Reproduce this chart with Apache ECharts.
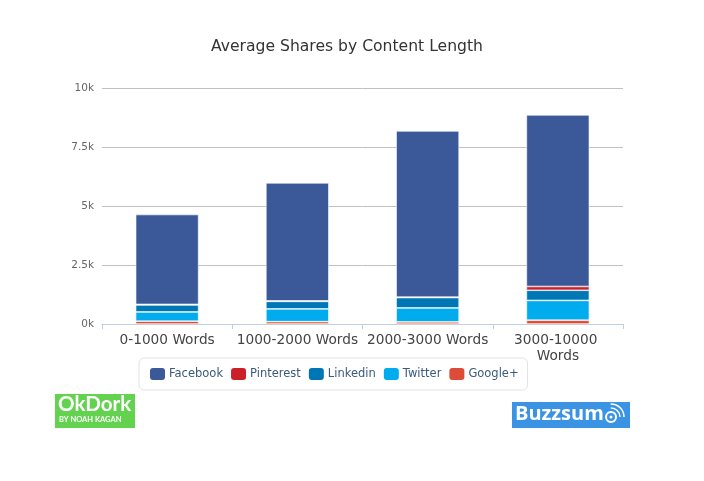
<!DOCTYPE html>
<html><head><meta charset="utf-8">
<style>html,body{margin:0;padding:0;background:#fff}#c{width:704px;height:481px}</style>
<script src="https://cdn.jsdelivr.net/npm/echarts@6/dist/echarts.min.js"></script>
</head><body><div id="c"></div>
<script>
const categories = ['0-1000 Words','1000-2000 Words','2000-3000 Words','3000-10000 Words'];
const facebook = [3810,5000,7040,7270];
const pinterest = [20,20,20,160];
const linkedin = [300,320,440,430];
const twitter = [390,540,590,840];
const googlePlus = [120,100,90,160];
const legendOrder = ['Facebook','Pinterest','Linkedin','Twitter','Google+'];
const colors = {Facebook:'#3b5998',Pinterest:'#cb2027',Linkedin:'#0077b5',Twitter:'#00aced',Google:'#dd4b39'};
const font = '"DejaVu Sans", sans-serif';
const bar = (name, data, color) => ({
  name, type:'bar', stack:'s', data, barWidth:63,
  itemStyle:{color, borderColor:'rgba(255,255,255,0.85)', borderWidth:0.7}
});
const chart = echarts.init(document.getElementById('c'), null, {renderer:'canvas'});
chart.setOption({
  animation:false,
  textStyle:{fontFamily:font},
  title:{text:'Average Shares by Content Length',left:206,top:34,
    textStyle:{fontFamily:font,fontSize:15.6,fontWeight:'normal',color:'#333'}},
  grid:{left:102,right:81,top:88,bottom:157,containLabel:false},
  xAxis:{type:'category',data:categories,
    axisLine:{lineStyle:{color:'#c0d0e0',width:1}},
    axisTick:{show:true,length:5,lineStyle:{color:'#c0d0e0'},alignWithLabel:false},
    axisLabel:{fontFamily:font,fontSize:13.7,color:'#444',margin:8,width:128,overflow:'break',lineHeight:16,interval:0}},
  yAxis:{type:'value',min:0,max:10000,interval:2500,
    axisLine:{show:false},axisTick:{show:false},
    splitLine:{lineStyle:{color:'#c0c0c0',width:1}},
    axisLabel:{fontFamily:font,fontSize:10.5,color:'#666',margin:8,padding:[2,0,0,0],formatter:v=>(v/1000)+'k'}},
  legend:{data:legendOrder,left:139,top:358,orient:'horizontal',
    padding:[10,9,10,11],itemGap:8,itemWidth:15,itemHeight:12,
    backgroundColor:'#fff',borderColor:'#e2e2e2',borderWidth:1,borderRadius:5,
    itemStyle:{borderWidth:0},
    textStyle:{fontFamily:font,fontSize:11.5,color:'#3a5a7c',padding:[0,0,0,-1]}},
  series:[
    bar('Google+',googlePlus,colors.Google),
    bar('Twitter',twitter,colors.Twitter),
    bar('Linkedin',linkedin,colors.Linkedin),
    bar('Pinterest',pinterest,colors.Pinterest),
    bar('Facebook',facebook,colors.Facebook)
  ],
  graphic:[
    {type:'rect',shape:{x:55,y:394,width:80,height:34},style:{fill:'#63d24f'}},
    {type:'text',x:58,y:394,style:{text:'OkDork',fill:'#fff',font:'bold 20.5px "Lato", sans-serif'}},
    {type:'text',x:59,y:416,style:{text:'BY NOAH KAGAN',fill:'#fff',font:'bold 7.5px "Lato", sans-serif'}},
    {type:'rect',shape:{x:512,y:402,width:118,height:26},style:{fill:'#3b94e3'}},
    {type:'text',x:515,y:404,style:{text:'Buzzsum',fill:'#fff',font:'bold 20px "Open Sans", sans-serif'}},
    {type:'circle',shape:{cx:611,cy:417,r:5},style:{fill:'none',stroke:'#fff',lineWidth:2}},
    {type:'circle',shape:{cx:611,cy:417,r:1.5},style:{fill:'#fff'}},
    {type:'arc',shape:{cx:611,cy:417,r:9,startAngle:-1.6,endAngle:0},style:{fill:'none',stroke:'#fff',lineWidth:1.5}},
    {type:'arc',shape:{cx:611,cy:417,r:13,startAngle:-1.6,endAngle:0},style:{fill:'none',stroke:'#fff',lineWidth:1.5}}
  ]
});
</script></body></html>
